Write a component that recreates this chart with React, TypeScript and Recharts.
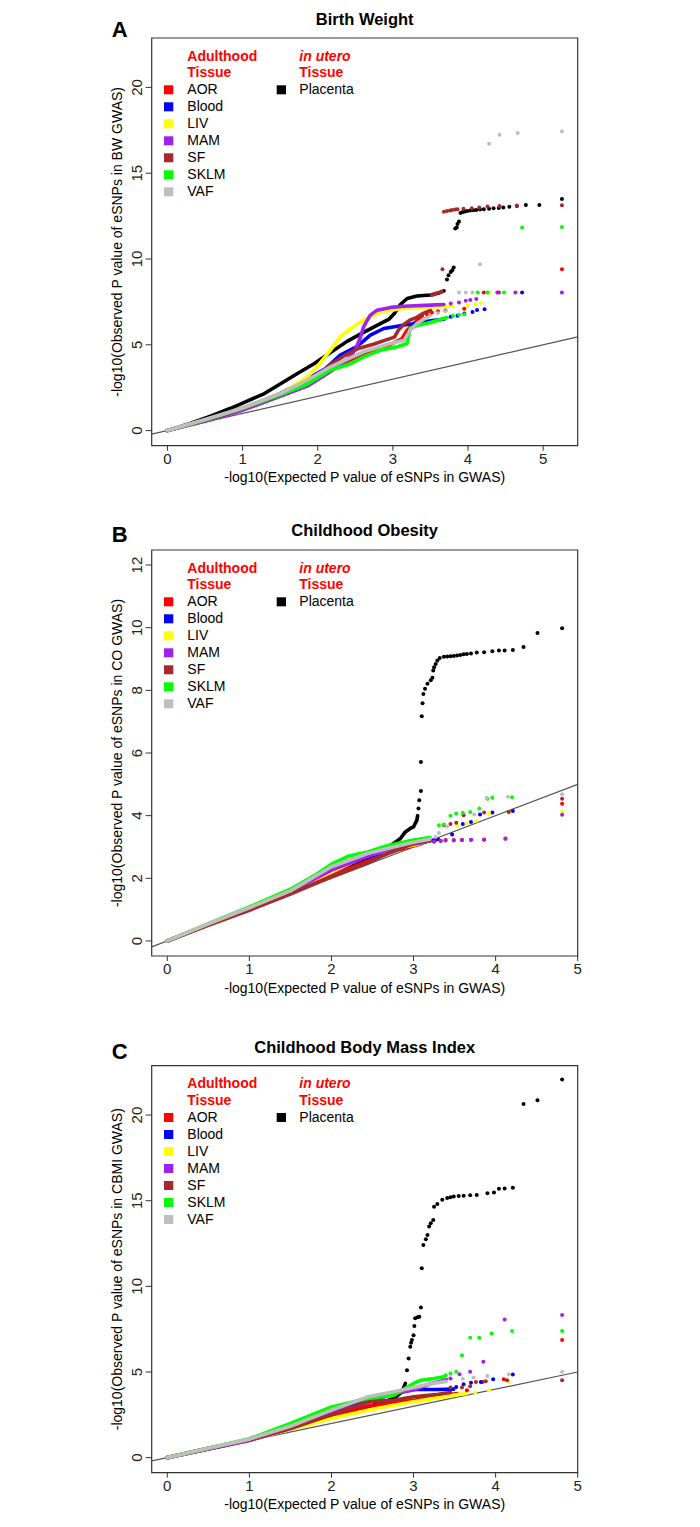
import React from "react"
import {
  ScatterChart,
  Scatter,
  XAxis,
  YAxis,
  ReferenceArea,
  ReferenceLine
} from "recharts"

type Pt = [number, number]

const FONT = "'Liberation Sans', Arial, Helvetica, sans-serif"

const tissueNames = ["AOR", "Blood", "LIV", "MAM", "SF", "SKLM", "VAF"]
const tissueColors = ["#ff0000", "#0000ff", "#ffff00", "#a020f0", "#a52a2a", "#00ff00", "#bebebe"]
const placentaColor = "#000000"

const xTicks = [0, 1, 2, 3, 4, 5]
const bwYTicks = [0, 5, 10, 15, 20]
const coYTicks = [0, 2, 4, 6, 8, 10, 12]
const cbmiYTicks = [0, 5, 10, 15, 20]

// A - birth weight (dense part drawn as a thick line, sparse tail as dots)
const bwPlacenta: Pt[] = [[0, 0], [0.3, 0.42], [0.6, 0.88], [0.84, 1.3], [1.0, 1.6], [1.29, 2.16], [1.5, 2.72], [1.73, 3.33], [1.95, 3.9], [2.17, 4.55], [2.39, 5.2], [2.61, 5.72], [2.84, 6.25], [2.95, 6.5], [3.02, 6.83], [3.1, 7.35], [3.19, 7.7], [3.32, 7.84], [3.5, 7.9], [3.6, 8.0], [3.68, 8.14]]
const bwPlacentaTail: Pt[] = [[3.72, 8.8], [3.74, 9.05], [3.77, 9.25], [3.79, 9.35], [3.81, 9.5], [3.83, 11.78], [3.85, 11.84], [3.86, 12.04], [3.88, 12.18], [3.9, 12.68], [3.93, 12.74], [3.96, 12.77], [3.99, 12.8], [4.03, 12.82], [4.07, 12.84], [4.11, 12.86], [4.16, 12.88], [4.21, 12.9], [4.28, 12.93], [4.34, 12.96], [4.41, 12.98], [4.47, 13.0], [4.55, 13.05], [4.65, 13.09], [4.77, 13.15], [4.95, 13.15], [5.25, 13.5]]
const bwAOR: Pt[] = [[0, 0], [0.5, 0.62], [1.0, 1.28], [1.5, 2.08], [1.85, 2.82], [2.17, 3.55], [2.61, 4.5], [2.97, 5.02], [3.12, 5.35], [3.19, 5.85], [3.27, 6.2], [3.39, 6.7]]
const bwAORTail: Pt[] = [[3.45, 6.8], [3.52, 6.88], [3.6, 6.95], [3.7, 7.0], [3.95, 7.1], [4.21, 8.05], [4.41, 8.05], [5.25, 9.4]]
const bwBlood: Pt[] = [[0, 0], [0.5, 0.62], [1.0, 1.3], [1.5, 2.15], [1.86, 3.0], [2.1, 3.6], [2.3, 4.4], [2.52, 4.89], [2.7, 5.57], [2.88, 5.95], [3.06, 6.08], [3.19, 6.18], [3.32, 6.24], [3.5, 6.4], [3.68, 6.49]]
const bwBloodTail: Pt[] = [[3.77, 6.63], [3.86, 6.69], [3.95, 6.83], [4.06, 6.91], [4.12, 7.03], [4.22, 7.07], [4.72, 8.05]]
const bwLIV: Pt[] = [[0, 0], [0.5, 0.62], [1.0, 1.3], [1.5, 2.1], [1.86, 3.13], [1.99, 3.72], [2.17, 4.69], [2.3, 5.47], [2.44, 5.95], [2.61, 6.44], [2.75, 6.73], [2.84, 6.92], [3.1, 7.1], [3.5, 7.2], [3.8, 7.25]]
const bwLIVTail: Pt[] = [[3.99, 7.31], [4.1, 7.37], [4.17, 7.45], [4.28, 8.05], [4.65, 8.05]]
const bwMAM: Pt[] = [[0, 0], [0.5, 0.55], [1.0, 1.19], [1.5, 2.0], [1.86, 2.59], [2.13, 3.33], [2.35, 4.0], [2.45, 4.4], [2.52, 4.9], [2.57, 5.47], [2.61, 6.04], [2.66, 6.44], [2.7, 6.73], [2.79, 7.02], [2.97, 7.18], [3.15, 7.25], [3.5, 7.31], [3.68, 7.35]]
const bwMAMTail: Pt[] = [[3.77, 7.41], [3.88, 7.47], [3.97, 7.57], [4.03, 7.61], [4.11, 7.67], [4.39, 8.05], [4.63, 8.05], [5.25, 8.05]]
const bwSF: Pt[] = [[0, 0], [0.5, 0.6], [1.0, 1.28], [1.5, 2.08], [1.85, 2.8], [2.04, 3.33], [2.17, 3.85], [2.35, 4.35], [2.52, 4.75], [2.75, 5.05], [2.92, 5.3], [3.02, 5.45], [3.08, 5.9], [3.15, 6.2], [3.23, 6.45], [3.32, 6.6], [3.41, 6.85], [3.5, 7.0]]
const bwSFTail: Pt[] = [[3.52, 7.9], [3.55, 7.95], [3.58, 8.0], [3.62, 8.05], [3.65, 8.1], [3.66, 9.4], [3.68, 12.76], [3.72, 12.8], [3.76, 12.83], [3.79, 12.86], [3.83, 12.88], [3.86, 12.9], [3.94, 12.93], [4.05, 12.96], [4.15, 13.0], [4.26, 13.06], [4.42, 13.09], [4.65, 13.12], [5.25, 13.13]]
const bwSKLM: Pt[] = [[0, 0], [0.5, 0.62], [1.0, 1.3], [1.5, 2.08], [1.86, 2.7], [2.17, 3.53], [2.44, 3.9], [2.61, 4.3], [2.84, 4.69], [3.06, 4.89], [3.19, 5.08], [3.23, 5.95], [3.32, 6.12], [3.5, 6.3], [3.72, 6.59]]
const bwSKLMTail: Pt[] = [[3.8, 6.7], [3.88, 6.75], [3.95, 6.78], [4.13, 8.05], [4.26, 8.05], [4.48, 8.05], [4.72, 11.83], [5.25, 11.87]]
const bwVAF: Pt[] = [[0, 0], [0.5, 0.65], [1.0, 1.32], [1.5, 2.16], [1.86, 2.94], [2.17, 3.72], [2.61, 4.59], [2.97, 5.08], [3.15, 5.27], [3.23, 5.86], [3.32, 6.24], [3.5, 6.73]]
const bwVAFTail: Pt[] = [[3.6, 6.85], [3.7, 6.95], [3.88, 8.05], [3.97, 8.05], [4.06, 8.05], [4.16, 9.7], [4.28, 16.71], [4.42, 17.24], [4.66, 17.34], [5.25, 17.43]]

// B - childhood obesity
const coPlacenta: Pt[] = [[0, 0], [0.5, 0.52], [1.0, 1.02], [1.5, 1.55], [2.0, 2.2], [2.44, 2.63], [2.75, 3.1], [2.84, 3.27], [2.9, 3.48], [2.96, 3.59], [3.0, 3.64], [3.02, 3.75], [3.04, 3.85], [3.05, 4.0]]
const coPlacentaTail: Pt[] = [[3.06, 4.23], [3.07, 4.49], [3.09, 4.79], [3.09, 5.71], [3.1, 7.17], [3.11, 7.59], [3.12, 7.88], [3.14, 8.05], [3.17, 8.21], [3.21, 8.32], [3.23, 8.4], [3.24, 8.63], [3.25, 8.74], [3.27, 8.84], [3.29, 8.95], [3.32, 9.03], [3.37, 9.07], [3.41, 9.08], [3.45, 9.09], [3.49, 9.1], [3.53, 9.11], [3.57, 9.13], [3.61, 9.15], [3.65, 9.16], [3.7, 9.18], [3.77, 9.21], [3.86, 9.22], [3.96, 9.25], [4.04, 9.27], [4.11, 9.27], [4.21, 9.29], [4.34, 9.38], [4.51, 9.83], [4.81, 9.98]]
const coAOR: Pt[] = [[0, 0], [0.5, 0.52], [1.0, 1.0], [1.5, 1.52], [2.0, 2.1], [2.44, 2.55], [2.8, 2.9], [3.1, 3.1]]
const coAORTail: Pt[] = [[3.25, 3.18], [3.33, 3.2], [3.39, 3.22], [3.49, 3.22], [3.59, 3.22], [3.7, 3.23], [3.86, 3.24], [4.12, 3.27], [4.81, 4.38]]
const coBlood: Pt[] = [[0, 0], [0.5, 0.52], [1.0, 1.03], [1.5, 1.58], [2.0, 2.26], [2.44, 2.68], [2.8, 2.95], [3.1, 3.15], [3.3, 3.25]]
const coBloodTail: Pt[] = [[3.47, 3.4], [3.6, 3.73], [3.7, 3.8], [3.81, 4.04], [3.96, 4.1], [4.21, 4.15]]
const coLIV: Pt[] = [[0, 0], [0.5, 0.54], [1.0, 1.05], [1.5, 1.62], [2.0, 2.2], [2.44, 2.74], [2.8, 2.95], [3.1, 3.12]]
const coLIVTail: Pt[] = [[3.53, 3.69], [3.65, 3.76], [3.76, 3.83], [3.92, 4.07], [4.16, 4.1], [4.81, 4.12]]
const coMAM: Pt[] = [[0, 0], [0.5, 0.53], [1.0, 1.04], [1.5, 1.58], [2.0, 2.26], [2.44, 2.7], [2.68, 2.9], [3.0, 3.1], [3.15, 3.15]]
const coMAMTail: Pt[] = [[3.25, 3.17], [3.33, 3.19], [3.39, 3.21], [3.49, 3.21], [3.59, 3.22], [3.7, 3.23], [3.86, 3.23], [4.12, 3.26], [4.81, 4.03]]
const coSF: Pt[] = [[0, 0], [0.5, 0.5], [1.0, 0.98], [1.5, 1.5], [2.0, 2.05], [2.44, 2.49], [2.68, 2.79], [3.0, 3.11], [3.2, 3.2]]
const coSFTail: Pt[] = [[3.37, 3.69], [3.45, 3.73], [3.52, 3.77], [3.61, 4.01], [3.86, 4.1], [4.16, 4.12], [4.81, 4.54]]
const coSKLM: Pt[] = [[0, 0], [0.5, 0.55], [1.0, 1.09], [1.5, 1.65], [1.8, 2.1], [2.0, 2.45], [2.2, 2.7], [2.44, 2.84], [2.68, 3.04], [3.0, 3.22], [3.2, 3.3]]
const coSKLMTail: Pt[] = [[3.31, 3.69], [3.37, 3.72], [3.45, 4.0], [3.52, 4.07], [3.6, 4.09], [3.69, 4.12], [3.8, 4.23], [3.9, 4.54], [3.96, 4.57], [4.2, 4.59]]
const coVAF: Pt[] = [[0, 0], [0.5, 0.55], [1.0, 1.06], [1.5, 1.6], [2.0, 2.37], [2.44, 2.79], [2.68, 2.95], [3.0, 3.15], [3.2, 3.25]]
const coVAFTail: Pt[] = [[3.27, 3.32], [3.31, 3.45], [3.41, 3.65], [3.74, 4.04], [3.89, 4.57], [4.15, 4.6], [4.81, 4.68]]

// C - childhood body mass index
const cbmiPlacenta: Pt[] = [[0, 0], [0.5, 0.5], [1.0, 1.01], [1.5, 1.7], [2.0, 2.48], [2.44, 2.96], [2.76, 3.45], [2.86, 3.84], [2.9, 4.33]]
const cbmiPlacentaTail: Pt[] = [[2.92, 5.1], [2.94, 5.79], [2.96, 6.47], [2.97, 6.7], [2.98, 6.86], [3.0, 7.15], [3.01, 7.68], [3.02, 8.13], [3.05, 8.2], [3.07, 8.23], [3.09, 8.77], [3.1, 11.05], [3.12, 12.42], [3.15, 12.75], [3.17, 13.0], [3.19, 13.49], [3.21, 13.68], [3.24, 13.87], [3.25, 14.65], [3.29, 14.81], [3.35, 15.05], [3.41, 15.15], [3.45, 15.2], [3.49, 15.25], [3.55, 15.27], [3.61, 15.29], [3.69, 15.31], [3.77, 15.33], [3.9, 15.44], [3.98, 15.48], [4.04, 15.69], [4.11, 15.71], [4.21, 15.75], [4.34, 20.64], [4.51, 20.86], [4.81, 22.07]]
const cbmiAOR: Pt[] = [[0, 0], [0.5, 0.55], [1.0, 1.05], [1.5, 1.7], [2.0, 2.45], [2.44, 3.0], [2.76, 3.2], [3.0, 3.35], [3.3, 3.6], [3.53, 3.74]]
const cbmiAORTail: Pt[] = [[3.65, 3.94], [3.84, 4.42], [4.1, 4.58], [4.81, 6.86]]
const cbmiBlood: Pt[] = [[0, 0], [0.5, 0.52], [1.0, 1.03], [1.5, 1.75], [2.0, 2.57], [2.44, 3.31], [2.76, 3.74], [3.0, 3.98], [3.3, 3.98], [3.49, 4.0]]
const cbmiBloodTail: Pt[] = [[3.52, 4.13], [3.61, 4.29], [3.7, 4.37], [3.82, 4.42], [3.97, 4.58], [4.21, 4.85]]
const cbmiLIV: Pt[] = [[0, 0], [0.5, 0.53], [1.0, 1.02], [1.5, 1.65], [2.0, 2.28], [2.44, 2.77], [2.76, 3.06], [3.0, 3.26], [3.49, 3.65], [3.65, 3.74]]
const cbmiLIVTail: Pt[] = [[3.75, 3.8], [3.92, 3.94], [4.16, 4.42]]
const cbmiMAM: Pt[] = [[0, 0], [0.5, 0.5], [1.0, 1.0], [1.5, 1.7], [2.0, 2.6], [2.44, 3.2], [2.76, 3.74], [3.0, 3.95], [3.2, 4.3], [3.4, 4.55]]
const cbmiMAMTail: Pt[] = [[3.45, 4.62], [3.56, 4.87], [3.69, 5.01], [3.85, 5.59], [4.11, 8.07], [4.81, 8.32]]
const cbmiSF: Pt[] = [[0, 0], [0.5, 0.55], [1.0, 1.05], [1.5, 1.7], [2.0, 2.5], [2.44, 3.26], [2.76, 3.35], [3.0, 3.55], [3.3, 3.7], [3.45, 3.8]]
const cbmiSFTail: Pt[] = [[3.45, 4.09], [3.59, 4.09], [3.69, 4.17], [3.76, 4.42], [3.88, 4.46], [4.14, 4.52], [4.81, 4.52]]
const cbmiSKLM: Pt[] = [[0, 0], [0.5, 0.55], [1.0, 1.1], [1.5, 1.99], [2.0, 2.96], [2.44, 3.45], [2.76, 3.65], [3.0, 4.33], [3.09, 4.52], [3.25, 4.62], [3.37, 4.72]]
const cbmiSKLMTail: Pt[] = [[3.39, 4.81], [3.45, 4.91], [3.52, 5.01], [3.59, 5.98], [3.69, 7.0], [3.8, 7.0], [3.95, 7.25], [4.2, 7.39], [4.81, 7.39]]
const cbmiVAF: Pt[] = [[0, 0], [0.5, 0.55], [1.0, 1.08], [1.5, 1.83], [2.0, 2.77], [2.44, 3.55], [2.76, 3.84], [3.0, 4.1], [3.2, 4.3], [3.4, 4.45]]
const cbmiVAFTail: Pt[] = [[3.6, 4.6], [3.73, 4.68], [3.9, 4.76], [4.16, 4.87], [4.81, 5.01]]

interface Series {
  color: string
  curve: Pt[]
  tail: Pt[]
}

const mkSeries = (placenta: Pt[], placentaTail: Pt[], curves: Pt[][], tails: Pt[][]): Series[] => [
  { color: placentaColor, curve: placenta, tail: placentaTail },
  ...curves.map((c, i) => ({ color: tissueColors[i], curve: c, tail: tails[i] }))
]

const bwSeries = mkSeries(bwPlacenta, bwPlacentaTail,
  [bwAOR, bwBlood, bwLIV, bwMAM, bwSF, bwSKLM, bwVAF],
  [bwAORTail, bwBloodTail, bwLIVTail, bwMAMTail, bwSFTail, bwSKLMTail, bwVAFTail])
const coSeries = mkSeries(coPlacenta, coPlacentaTail,
  [coAOR, coBlood, coLIV, coMAM, coSF, coSKLM, coVAF],
  [coAORTail, coBloodTail, coLIVTail, coMAMTail, coSFTail, coSKLMTail, coVAFTail])
const cbmiSeries = mkSeries(cbmiPlacenta, cbmiPlacentaTail,
  [cbmiAOR, cbmiBlood, cbmiLIV, cbmiMAM, cbmiSF, cbmiSKLM, cbmiVAF],
  [cbmiAORTail, cbmiBloodTail, cbmiLIVTail, cbmiMAMTail, cbmiSFTail, cbmiSKLMTail, cbmiVAFTail])

const PLOT_LEFT = 151.7
const PLOT_RIGHT = 577.7
const X_AXIS_H = 30
const Y_AXIS_W = 40

const toObj = (pts: Pt[]) => pts.map(([x, y]) => ({ x, y }))

const XTick = ({ x, y, payload }: any) => (
  <text x={x} y={y + 11} textAnchor="middle" fontSize={15} fontFamily={FONT} fill="#222">
    {payload.value}
  </text>
)

const YTick = ({ x, y, payload }: any) => {
  const bx = x - 1.5
  return (
    <text x={bx} y={y} transform={`rotate(-90 ${bx} ${y})`} textAnchor="middle" fontSize={15} fontFamily={FONT} fill="#222">
      {payload.value}
    </text>
  )
}

interface PanelProps {
  top: number
  height: number
  plotTop: number
  plotBottom: number
  xDomain: [number, number]
  yDomain: [number, number]
  yTicks: number[]
  series: Series[]
  letter: string
  letterY: number
  title: string
  titleY: number
  yLabel: string
}

function QQPanel({ top, height, plotTop, plotBottom, xDomain, yDomain, yTicks, series, letter, letterY, title, titleY, yLabel }: PanelProps) {
  const midX = (PLOT_LEFT + PLOT_RIGHT) / 2
  const midY = (plotTop + plotBottom) / 2
  const legTop = plotTop
  return (
    <div style={{ position: "absolute", top, left: 0, width: 700, height }}>
      <ScatterChart
        width={700}
        height={height}
        margin={{ top: plotTop, right: 700 - PLOT_RIGHT, bottom: height - plotBottom - X_AXIS_H, left: PLOT_LEFT - Y_AXIS_W }}
      >
        <XAxis
          type="number"
          dataKey="x"
          domain={xDomain}
          ticks={xTicks}
          allowDataOverflow
          axisLine={false}
          tickSize={5}
          tickLine={{ stroke: "#333" }}
          tick={(p: any) => <XTick {...p} />}
          height={X_AXIS_H}
        />
        <YAxis
          type="number"
          dataKey="y"
          domain={yDomain}
          ticks={yTicks}
          allowDataOverflow
          axisLine={false}
          tickSize={6}
          tickLine={{ stroke: "#333" }}
          tick={(p: any) => <YTick {...p} />}
          width={Y_AXIS_W}
        />
        <ReferenceArea
          x1={xDomain[0]}
          x2={xDomain[1]}
          y1={yDomain[0]}
          y2={yDomain[1]}
          fill="none"
          stroke="#333"
          strokeWidth={1.2}
          ifOverflow="visible"
        />
        {series.map((s, i) => (
          <Scatter
            key={"c" + i}
            data={toObj(s.curve)}
            fill={s.color}
            line={{ stroke: s.color, strokeWidth: 3.6, strokeLinejoin: "round", strokeLinecap: "round" }}
            lineType="joint"
            shape={() => <g />}
            isAnimationActive={false}
          />
        ))}
        {series.map((s, i) => (
          <Scatter
            key={"t" + i}
            data={toObj(s.tail)}
            fill={s.color}
            shape={(p: any) => <circle cx={p.cx} cy={p.cy} r={2} fill={s.color} />}
            isAnimationActive={false}
          />
        ))}
        <ReferenceLine
          segment={[{ x: xDomain[0], y: xDomain[0] }, { x: xDomain[1], y: xDomain[1] }]}
          stroke="#555"
          strokeWidth={1.2}
          ifOverflow="visible"
        />
      </ScatterChart>
      <svg width={700} height={height} style={{ position: "absolute", left: 0, top: 0, pointerEvents: "none" }} fontFamily={FONT}>
        <text x={111.7} y={letterY} fontSize={22} fontWeight="bold" fill="#000">{letter}</text>
        <text x={midX} y={titleY} textAnchor="middle" fontSize={16.5} fontWeight="bold" fill="#000">{title}</text>
        <text x={187.3} y={legTop + 22.7} fontSize={14} fontWeight="bold" fill="#ff0000">Adulthood</text>
        <text x={187.3} y={legTop + 39.3} fontSize={14} fontWeight="bold" fill="#ff0000">Tissue</text>
        <text x={299.3} y={legTop + 22.7} fontSize={14} fontWeight="bold" fontStyle="italic" fill="#ff0000">in utero</text>
        <text x={299.3} y={legTop + 39.3} fontSize={14} fontWeight="bold" fill="#ff0000">Tissue</text>
        {tissueNames.map((t, i) => (
          <g key={t}>
            <rect x={164} y={legTop + 56.3 + 17 * i - 9} width={9.3} height={9} fill={tissueColors[i]} />
            <text x={187.3} y={legTop + 56.3 + 17 * i} fontSize={14} fill="#000">{t}</text>
          </g>
        ))}
        <rect x={276.7} y={legTop + 56.3 - 9} width={9.3} height={9} fill={placentaColor} />
        <text x={299.3} y={legTop + 56.3} fontSize={14} fill="#000">Placenta</text>
        <text x={midX} y={plotBottom + 36.5} textAnchor="middle" fontSize={14} fill="#000">
          -log10(Expected P value of eSNPs in GWAS)
        </text>
        <text x={122} y={midY} transform={`rotate(-90 122 ${midY})`} textAnchor="middle" fontSize={14} fill="#000">
          {yLabel}
        </text>
      </svg>
    </div>
  )
}

export default function App() {
  return (
    <div style={{ position: "absolute", top: 0, left: 0, width: 700, height: 1527, background: "#fff" }}>
      <QQPanel
        top={0}
        height={500}
        plotTop={38}
        plotBottom={445.7}
        xDomain={[-0.21, 5.46]}
        yDomain={[-0.88, 22.88]}
        yTicks={bwYTicks}
        series={bwSeries}
        letter="A"
        letterY={36.7}
        title="Birth Weight"
        titleY={25}
        yLabel="-log10(Observed P value of eSNPs in BW GWAS)"
      />
      <QQPanel
        top={500}
        height={510}
        plotTop={50}
        plotBottom={456}
        xDomain={[-0.19, 5.0]}
        yDomain={[-0.48, 12.48]}
        yTicks={coYTicks}
        series={coSeries}
        letter="B"
        letterY={41.7}
        title="Childhood Obesity"
        titleY={36}
        yLabel="-log10(Observed P value of eSNPs in CO GWAS)"
      />
      <QQPanel
        top={1010}
        height={517}
        plotTop={55.7}
        plotBottom={462.7}
        xDomain={[-0.19, 5.0]}
        yDomain={[-0.88, 22.88]}
        yTicks={cbmiYTicks}
        series={cbmiSeries}
        letter="C"
        letterY={48.5}
        title="Childhood Body Mass Index"
        titleY={42.7}
        yLabel="-log10(Observed P value of eSNPs in CBMI GWAS)"
      />
    </div>
  )
}
